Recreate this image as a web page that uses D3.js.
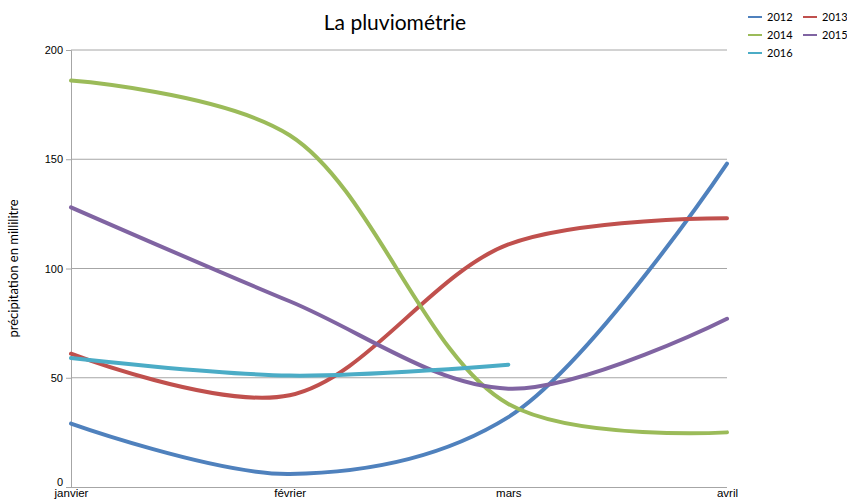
<!DOCTYPE html>
<html>
<head>
<meta charset="utf-8">
<script src="https://cdn.jsdelivr.net/npm/d3@7"></script>
<style>
  body { margin: 0; background: #fff; }
  svg { font-family: Lato, "Open Sans", sans-serif; }
</style>
</head>
<body>
<div id="chart"></div>
<script>
// data
const months = ["janvier", "février", "mars", "avril"];
const years = ["2012", "2013", "2014", "2015", "2016"];
const v2012 = [29, 6, 32, 148];
const v2013 = [61, 42, 111, 123];
const v2014 = [186, 161, 38, 25];
const v2015 = [128, 85, 45, 77];
const v2016 = [59, 51, 56];
const yTicks = [0, 50, 100, 150, 200];
const colors = ["#4f81bd", "#c0504d", "#9bbb59", "#8064a2", "#4bacc6"];

const width = 847;
const height = 503;
const plotLeft = 71, plotRight = 727, plotTop = 50, plotBottom = 487;

const svg = d3.select("#chart").append("svg").attr("width", width).attr("height", height);

const xScale = d3.scalePoint().domain(months).range([plotLeft, plotRight]);
const yScale = d3.scaleLinear().domain([0, 200]).range([plotBottom, plotTop]);

// gridlines
svg.append("g")
    .selectAll("line")
    .data(yTicks.filter(d => d > 0))
    .join("line")
    .attr("x1", plotLeft).attr("x2", plotRight)
    .attr("y1", d => yScale(d)).attr("y2", d => yScale(d))
    .attr("stroke", "#a6a6a6").attr("stroke-width", 1);

// y axis
const yAxis = svg.append("g")
    .attr("transform", `translate(${plotLeft},0)`)
    .call(d3.axisLeft(yScale).tickValues(yTicks).tickSize(5).tickPadding(3));
yAxis.select(".domain").attr("stroke", "#a6a6a6");
yAxis.selectAll(".tick line").attr("stroke", "#a6a6a6");
yAxis.selectAll(".tick text").attr("font-size", 11).attr("fill", "#000");
yAxis.selectAll(".tick text").filter(d => d === 0).attr("dy", "-0.15em");

// x axis
const xAxis = svg.append("g")
    .attr("transform", `translate(0,${plotBottom})`)
    .call(d3.axisBottom(xScale).tickSize(0).tickPadding(2));
xAxis.select(".domain").attr("stroke", "#a6a6a6").attr("d", `M${plotLeft},0.5H${plotRight}`);
xAxis.selectAll(".tick text").attr("font-size", 11.5).attr("fill", "#000");

// lines
const series = [v2012, v2013, v2014, v2015, v2016];
const line = d3.line()
    .x((d, i) => xScale(months[i]))
    .y(d => yScale(d))
    .curve(d3.curveCatmullRom.alpha(0.5));

svg.append("g")
    .selectAll("path")
    .data(series)
    .join("path")
    .attr("d", d => line(d))
    .attr("fill", "none")
    .attr("stroke", (d, i) => colors[i])
    .attr("stroke-width", 4)
    .attr("stroke-linecap", "round");

// title
svg.append("text")
    .attr("x", 395).attr("y", 30)
    .attr("text-anchor", "middle")
    .attr("font-size", 21)
    .attr("fill", "#000")
    .text("La pluviométrie");

// y label
svg.append("text")
    .attr("transform", `translate(18,${(plotTop + plotBottom) / 2}) rotate(-90)`)
    .attr("text-anchor", "middle")
    .attr("font-size", 13)
    .attr("fill", "#000")
    .text("précipitation en millilitre");

// legend
const legend = svg.append("g")
    .selectAll("g")
    .data(years)
    .join("g")
    .attr("transform", (d, i) => `translate(${748 + (i % 2) * 55},${17 + Math.floor(i / 2) * 18})`);
legend.append("line")
    .attr("x1", 0).attr("x2", 14)
    .attr("stroke", (d, i) => colors[i]).attr("stroke-width", 2);
legend.append("text")
    .attr("x", 19).attr("y", 4)
    .attr("font-size", 11)
    .attr("fill", "#000")
    .text(d => d);
</script>
</body>
</html>
